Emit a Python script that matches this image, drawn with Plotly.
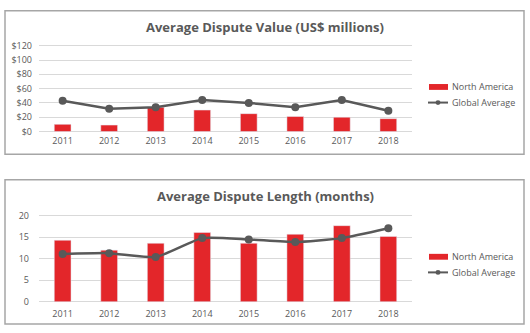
import plotly.graph_objects as go

# Data
years = ["2011", "2012", "2013", "2014", "2015", "2016", "2017", "2018"]
value_north_america = [10, 9, 34, 30, 25, 21, 20, 18]
value_global_avg = [43, 32, 34, 44, 40, 34, 44, 29]
length_north_america = [14.3, 12.0, 13.6, 16.1, 13.6, 15.7, 17.7, 15.2]
length_global_avg = [11.1, 11.3, 10.4, 14.8, 14.5, 13.9, 14.8, 17.1]
value_ticks = [0, 20, 40, 60, 80, 100, 120]
value_tick_labels = ["$0", "$20", "$40", "$60", "$80", "$100", "$120"]
length_ticks = [0, 5, 10, 15, 20]
series_names = ["North America", "Global Average"]

W, H = 530, 333
RED = "#E3262A"
GREY = "#595959"
GRID = "#D9D9D9"
FONT = "Open Sans"


def px_x(p):
    return p / W


def px_y(p):
    return 1 - p / H


fig = go.Figure()

# Top panel: dispute value
fig.add_trace(go.Bar(x=years, y=value_north_america, name=series_names[0],
                     marker_color=RED, xaxis="x", yaxis="y"))
fig.add_trace(go.Scatter(x=years, y=value_global_avg, name=series_names[1],
                         mode="lines+markers", line=dict(color=GREY, width=2.5),
                         marker=dict(size=8, color=GREY),
                         xaxis="x", yaxis="y"))

# Bottom panel: dispute length
fig.add_trace(go.Bar(x=years, y=length_north_america, name=series_names[0],
                     marker_color=RED, xaxis="x2", yaxis="y2"))
fig.add_trace(go.Scatter(x=years, y=length_global_avg, name=series_names[1],
                         mode="lines+markers",
                         line=dict(color=GREY, width=2.5, shape="spline", smoothing=0.5),
                         marker=dict(size=8, color=GREY),
                         xaxis="x2", yaxis="y2"))

tick_font = dict(family=FONT, size=9, color=GREY)
x_dom = [px_x(39), px_x(412)]

axis_common = dict(showgrid=True, gridcolor=GRID, gridwidth=1, zeroline=False,
                   showline=False, tickfont=tick_font, ticks="", fixedrange=True)

fig.update_layout(
    width=W, height=H,
    margin=dict(l=0, r=0, t=0, b=0),
    paper_bgcolor="white", plot_bgcolor="white",
    bargap=0.64,
    showlegend=False,
    font=dict(family=FONT, color=GREY),
    xaxis=dict(domain=x_dom, anchor="y", showgrid=False, showline=False,
               zeroline=False, ticks="", tickfont=tick_font, ticklabelstandoff=0),
    yaxis=dict(domain=[px_y(133.6), px_y(39.8)], anchor="x", range=[-4, 124],
               tickmode="array", tickvals=value_ticks, ticktext=value_tick_labels,
               ticklabelstandoff=6, **axis_common),
    xaxis2=dict(domain=x_dom, anchor="y2", showgrid=False, showline=False,
                zeroline=False, ticks="", tickfont=tick_font, ticklabelstandoff=3),
    yaxis2=dict(domain=[px_y(307.2), px_y(212.6)], anchor="x2", range=[-0.5, 21],
                tickmode="array", tickvals=length_ticks, ticklabelstandoff=9,
                **axis_common),
)

# Panel frames
for top, bottom in [(7, 154), (180, 328)]:
    fig.add_shape(type="rect", xref="paper", yref="paper",
                  x0=px_x(5), x1=px_x(524), y0=px_y(bottom), y1=px_y(top),
                  line=dict(color="#A6A6A6", width=1.5), fillcolor="rgba(0,0,0,0)",
                  layer="below")

# Panel titles
for text, ypix in [("Average Dispute Value (US$ millions)", 24),
                   ("Average Dispute Length (months)", 197)]:
    fig.add_annotation(text=f"<b>{text}</b>", xref="paper", yref="paper",
                       x=px_x(265), y=px_y(ypix), xanchor="center", yanchor="middle",
                       showarrow=False, font=dict(family=FONT, size=13, color=GREY))

# Legends (one per panel): red swatch for the bars, line-with-dot for the average
for bar_y, line_y in [(85, 101), (259, 275)]:
    fig.add_shape(type="rect", xref="paper", yref="paper",
                  x0=px_x(429), x1=px_x(448), y0=px_y(bar_y + 3), y1=px_y(bar_y - 3),
                  fillcolor=RED, line_width=0)
    fig.add_shape(type="line", xref="paper", yref="paper",
                  x0=px_x(428), x1=px_x(448), y0=px_y(line_y), y1=px_y(line_y),
                  line=dict(color=GREY, width=2))
    fig.add_shape(type="circle", xref="paper", yref="paper",
                  x0=px_x(435.5), x1=px_x(440.5), y0=px_y(line_y + 2.5), y1=px_y(line_y - 2.5),
                  fillcolor=GREY, line_width=0)
    for name, ypix in zip(series_names, [bar_y, line_y]):
        fig.add_annotation(text=name, xref="paper", yref="paper",
                           x=px_x(450), y=px_y(ypix), xanchor="left", yanchor="middle",
                           showarrow=False, font=dict(family=FONT, size=9, color=GREY))

fig.write_html("out.html")
